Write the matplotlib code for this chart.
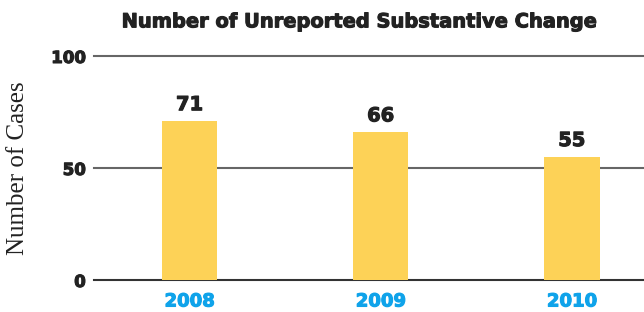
import matplotlib
matplotlib.use("Agg")

import numpy as np
import matplotlib.pyplot as plt
import matplotlib.patheffects as pe

years = ["2008", "2009", "2010"]
cases = [71, 66, 55]
yticks = [0, 50, 100]

fig = plt.figure(figsize=(6.44, 3.12), dpi=100)
ax = fig.add_axes([0.146, 0.1026, 0.854, 0.718])

x = np.arange(len(years))

# 太字をもう少し太く
def heavy(c):
    return [pe.withStroke(linewidth=0.8, foreground=c)]

# grid lines
for t in yticks:
    ax.axhline(t, color="#333333" if t == 0 else "#666666", linewidth=1.5,
               zorder=1, clip_on=False)

ax.bar(x, cases, width=0.29, color="#FDD257", zorder=2)

for xi, v in zip(x, cases):
    ax.text(xi, v + 3, str(v), ha="center", va="bottom", fontsize=14,
            fontweight="bold", family="DejaVu Sans", color="#222222",
            path_effects=heavy("#222222"))

ax.set_xlim(-0.5, 2.377)
ax.set_ylim(0, 100)
ax.set_xticks(x)
ax.set_xticklabels(years, fontsize=13, fontweight="bold", family="DejaVu Sans", color="#0FA3EA")
for lb in ax.get_xticklabels():
    lb.set_path_effects(heavy("#0FA3EA"))
ax.set_yticks(yticks)
ax.set_yticklabels([str(t) for t in yticks], fontsize=12, fontweight="bold",
                   family="DejaVu Sans", color="#222222")
for lb in ax.get_yticklabels():
    lb.set_path_effects(heavy("#222222"))
ax.tick_params(axis="x", length=0, pad=9)
ax.tick_params(axis="y", length=0, pad=6)
for s in ax.spines.values():
    s.set_visible(False)

ax.set_ylabel("Number of Cases", fontsize=18, family="Liberation Serif",
              color="#222222", labelpad=16)

fig.text(0.559, 0.93, "Number of Unreported Substantive Change", ha="center", va="center",
         fontsize=14, fontweight="bold", family="DejaVu Sans", color="#222222",
         path_effects=heavy("#222222"))

plt.savefig("out.png", dpi=100)
